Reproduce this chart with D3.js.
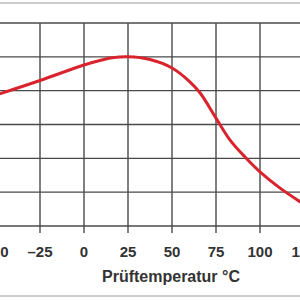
<!DOCTYPE html>
<html><head><meta charset="utf-8">
<script src="https://cdn.jsdelivr.net/npm/d3@7"></script>
<style>body{margin:0;background:#fff}svg{display:block}</style>
</head><body>
<script>
const temps =  [-50, -25, 0, 9, 16, 25, 37.5, 50, 60, 66, 75, 83, 91.5, 100, 111.4, 122.7, 125];
const values = [3.87, 4.30, 4.76, 4.89, 4.97, 5.00, 4.92, 4.67, 4.27, 3.93, 3.19, 2.54, 2.04, 1.60, 1.12, 0.72, 0.64];
const xTicks = [-50, -25, 0, 25, 50, 75, 100, 125];
const xTickLabels = ["\u201350", "\u201325", "0", "25", "50", "75", "100", "125"];
const yGrid = [0, 1, 2, 3, 4, 5, 6];
const xTitle = "Prüftemperatur °C";

const W = 300, H = 300;
const svg = d3.select("body").append("svg").attr("width", W).attr("height", H);
const x = d3.scaleLinear().domain([0, 25]).range([84, 128]);
const y = d3.scaleLinear().domain([0, 6]).range([226, 23]);

// light frame lines
svg.append("line").attr("x1",0).attr("x2",W).attr("y1",3).attr("y2",3).attr("stroke","#bdbdbd").attr("stroke-width",1.5);
svg.append("line").attr("x1",0).attr("x2",W).attr("y1",296).attr("y2",296).attr("stroke","#bdbdbd").attr("stroke-width",1.5);

// horizontal grid
svg.selectAll(".hg").data(yGrid).enter().append("line")
  .attr("x1",0).attr("x2",W).attr("y1",d=>y(d)).attr("y2",d=>y(d))
  .attr("stroke","#4a4a4a").attr("stroke-width",1.4);
// vertical grid + ticks
svg.selectAll(".vg").data(xTicks).enter().append("line")
  .attr("x1",d=>x(d)).attr("x2",d=>x(d)).attr("y1",y(6)).attr("y2",y(0)+7)
  .attr("stroke","#4a4a4a").attr("stroke-width",1.4);

// curve
const line = d3.line().x(d=>x(d[0])).y(d=>y(d[1])).curve(d3.curveCatmullRom.alpha(0.5));
svg.append("path").datum(temps.map((t,i)=>[t, values[i]]))
  .attr("d", line).attr("fill","none").attr("stroke","#d9232d").attr("stroke-width",3).attr("stroke-linecap","round");

// tick labels
svg.selectAll(".tl").data(xTicks).enter().append("text")
  .attr("x",d=>x(d)).attr("y",257).attr("text-anchor","middle")
  .attr("font-family","Liberation Sans, Arial, sans-serif").attr("font-weight","bold").attr("font-size",15)
  .attr("fill","#333").text((d,i)=>xTickLabels[i]);

svg.append("text").attr("x",171).attr("y",282).attr("text-anchor","middle")
  .attr("font-family","Liberation Sans, Arial, sans-serif").attr("font-weight","bold").attr("font-size",16)
  .attr("fill","#333").text(xTitle);
</script>
</body></html>
